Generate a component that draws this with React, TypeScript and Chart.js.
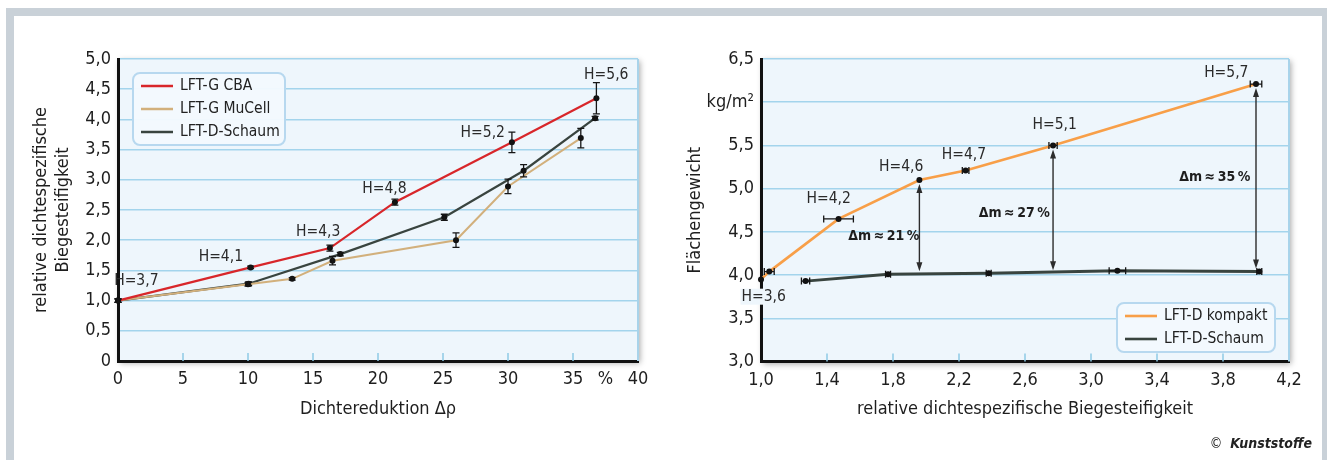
import React, { useEffect, useRef } from 'react';
import { Chart, registerables } from 'chart.js';

Chart.register(...registerables);

const FONT = "'DejaVu Sans Condensed', 'Liberation Sans Narrow', 'Roboto Condensed', 'Open Sans', sans-serif";

// ---------- Left chart data ----------
const cbaX = [0, 10.2, 16.3, 21.3, 30.3, 36.8];
const cbaY = [1.0, 1.55, 1.87, 2.63, 3.62, 4.35];
const cbaErr = [0.03, 0.02, 0.05, 0.05, 0.17, 0.26];

const mucellX = [0, 10.0, 13.4, 16.5, 26.0, 30.0, 35.6];
const mucellY = [1.0, 1.27, 1.36, 1.66, 2.0, 2.89, 3.69];
const mucellErr = [0.03, 0.03, 0.02, 0.07, 0.12, 0.12, 0.16];

const schaumGX = [0, 10.05, 17.1, 25.1, 31.2, 36.7];
const schaumGY = [1.0, 1.28, 1.77, 2.38, 3.15, 4.02];
const schaumGErr = [0.03, 0.03, 0.03, 0.05, 0.1, 0.03];

const leftHLabels = ['H=3,7', 'H=4,1', 'H=4,3', 'H=4,8', 'H=5,2', 'H=5,6'];
const leftHX = [1.41, 7.91, 15.4, 20.5, 28.06, 37.56];
const leftHY = [1.32, 1.73, 2.14, 2.85, 3.77, 4.74];

const leftSeriesNames = ['LFT-G CBA', 'LFT-G MuCell', 'LFT-D-Schaum'];

// ---------- Right chart data ----------
const kompaktX = [1.0, 1.05, 1.47, 1.96, 2.24, 2.77, 4.0];
const kompaktY = [3.95, 4.04, 4.65, 5.10, 5.21, 5.50, 6.21];
const kompaktXErr = [0, 0.03, 0.09, 0, 0.02, 0.025, 0.035];

const schaumDX = [1.27, 1.77, 2.38, 3.16, 4.02];
const schaumDY = [3.93, 4.01, 4.02, 4.05, 4.04];
const schaumDXErr = [0.025, 0.015, 0.015, 0.05, 0.015];

const rightHLabels = ['H=3,6', 'H=4,2', 'H=4,6', 'H=4,7', 'H=5,1', 'H=5,7'];
const rightHX = [1.016, 1.41, 1.85, 2.23, 2.78, 3.82];
const rightHY = [3.75, 4.88, 5.25, 5.39, 5.74, 6.34];

const arrowX = [1.96, 2.77, 4.0];
const arrowTop = [5.10, 5.50, 6.21];
const arrowBottom = [4.01, 4.02, 4.04];
const deltaLabels = ['Δm\u2009≈\u200921\u2009%', 'Δm\u2009≈\u200927\u2009%', 'Δm\u2009≈\u200935\u2009%'];
const deltaX = [1.745, 2.535, 3.75];
const deltaY = [4.45, 4.715, 5.13];

const rightSeriesNames = ['LFT-D kompakt', 'LFT-D-Schaum'];

// ---------- styling ----------
const C_RED = '#d8262a';
const C_TAN = '#d2b07c';
const C_DARK = '#39443f';
const C_ORANGE = '#f89f48';
const C_PLOT = '#eef6fc';
const C_GRID = '#a3d4ec';
const C_TEXT = '#1e1e1e';

const comma = (v: number) => v.toFixed(1).replace('.', ',');

const pts = (xs: number[], ys: number[]) => xs.map((x, i) => ({ x, y: ys[i] }));

type ErrSpec = { ds: number; xs: number[]; ys: number[]; err: number[]; dir: 'x' | 'y' };
type LegendSpec = { anchor: 'tl' | 'br'; dx: number; dy: number; w: number; h: number; rowH: number; items: { label: string; color: string; width: number }[] };

function makeDecor(cfg: {
  innerTick: (v: number, min: number, max: number) => boolean;
  errors: ErrSpec[];
  labels: { text: string[]; xs: number[]; ys: number[]; maskFirst?: boolean };
  arrows?: { xs: number[]; tops: number[]; bottoms: number[] };
  deltas?: { text: string[]; xs: number[]; ys: number[] };
  legend: LegendSpec;
}) {
  return {
    id: 'decor',
    beforeDraw(chart: any) {
      const { ctx, chartArea: ca } = chart;
      ctx.save();
      ctx.shadowColor = 'rgba(0,0,0,0.35)';
      ctx.shadowBlur = 6;
      ctx.shadowOffsetX = 2;
      ctx.shadowOffsetY = 2;
      ctx.fillStyle = C_PLOT;
      ctx.fillRect(ca.left, ca.top, ca.right - ca.left, ca.bottom - ca.top);
      ctx.restore();
    },
    beforeDatasetsDraw(chart: any) {
      const { ctx, chartArea: ca } = chart;
      const xs = chart.scales.x;
      ctx.save();
      ctx.strokeStyle = '#a8d3ea';
      ctx.lineWidth = 2;
      ctx.beginPath();
      ctx.moveTo(ca.right, ca.top);
      ctx.lineTo(ca.right, ca.bottom);
      ctx.stroke();
      ctx.strokeStyle = '#8ecae6';
      ctx.lineWidth = 1.5;
      for (const t of xs.ticks) {
        if (!cfg.innerTick(t.value, xs.min, xs.max)) continue;
        const px = xs.getPixelForValue(t.value);
        ctx.beginPath();
        ctx.moveTo(px, ca.bottom);
        ctx.lineTo(px, ca.bottom - 8);
        ctx.stroke();
      }
      ctx.restore();
    },
    afterDatasetsDraw(chart: any) {
      const { ctx } = chart;
      const xs = chart.scales.x;
      const ys = chart.scales.y;
      ctx.save();
      // error bars
      ctx.strokeStyle = '#151515';
      ctx.lineWidth = 1.3;
      for (const e of cfg.errors) {
        e.xs.forEach((xv, i) => {
          const err = e.err[i];
          if (!err) return;
          const yv = e.ys[i];
          ctx.beginPath();
          if (e.dir === 'y') {
            const px = xs.getPixelForValue(xv);
            const p1 = ys.getPixelForValue(yv + err);
            const p2 = ys.getPixelForValue(yv - err);
            ctx.moveTo(px, p1); ctx.lineTo(px, p2);
            ctx.moveTo(px - 3.5, p1); ctx.lineTo(px + 3.5, p1);
            ctx.moveTo(px - 3.5, p2); ctx.lineTo(px + 3.5, p2);
          } else {
            const py = ys.getPixelForValue(yv);
            const p1 = xs.getPixelForValue(xv - err);
            const p2 = xs.getPixelForValue(xv + err);
            ctx.moveTo(p1, py); ctx.lineTo(p2, py);
            ctx.moveTo(p1, py - 3.5); ctx.lineTo(p1, py + 3.5);
            ctx.moveTo(p2, py - 3.5); ctx.lineTo(p2, py + 3.5);
          }
          ctx.stroke();
        });
      }
      // arrows
      if (cfg.arrows) {
        const a = cfg.arrows;
        ctx.strokeStyle = '#2c2c2c';
        ctx.fillStyle = '#2c2c2c';
        ctx.lineWidth = 1.4;
        a.xs.forEach((xv, i) => {
          const px = xs.getPixelForValue(xv);
          const t = ys.getPixelForValue(a.tops[i]) + 4;
          const b = ys.getPixelForValue(a.bottoms[i]) - 3;
          ctx.beginPath();
          ctx.moveTo(px, t + 6); ctx.lineTo(px, b - 6);
          ctx.stroke();
          ctx.beginPath();
          ctx.moveTo(px, t); ctx.lineTo(px - 3, t + 9); ctx.lineTo(px + 3, t + 9); ctx.closePath();
          ctx.fill();
          ctx.beginPath();
          ctx.moveTo(px, b); ctx.lineTo(px - 3, b - 9); ctx.lineTo(px + 3, b - 9); ctx.closePath();
          ctx.fill();
        });
      }
      // H labels
      ctx.font = `15.5px ${FONT}`;
      ctx.textAlign = 'center';
      ctx.textBaseline = 'middle';
      const L = cfg.labels;
      L.text.forEach((t, i) => {
        const px = xs.getPixelForValue(L.xs[i]);
        const py = ys.getPixelForValue(L.ys[i]);
        if (L.maskFirst && i === 0) {
          const w = ctx.measureText(t).width;
          ctx.fillStyle = C_PLOT;
          ctx.fillRect(px - w / 2 - 1, py - 8, w + 2, 16);
        }
        ctx.fillStyle = '#2a2a2a';
        ctx.fillText(t, px, py);
      });
      if (cfg.deltas) {
        ctx.font = `bold 14px ${FONT}`;
        ctx.fillStyle = '#1e1e1e';
        cfg.deltas.text.forEach((t, i) => {
          ctx.fillText(t, xs.getPixelForValue(cfg.deltas!.xs[i]), ys.getPixelForValue(cfg.deltas!.ys[i]));
        });
      }
      ctx.restore();
    },
    afterDraw(chart: any) {
      const { ctx, chartArea: ca } = chart;
      const lg = cfg.legend;
      const x0 = lg.anchor === 'tl' ? ca.left + lg.dx : ca.right - lg.dx - lg.w;
      const y0 = lg.anchor === 'tl' ? ca.top + lg.dy : ca.bottom - lg.dy - lg.h;
      ctx.save();
      ctx.fillStyle = 'rgba(243,249,254,0.97)';
      ctx.strokeStyle = '#b7d8ef';
      ctx.lineWidth = 2;
      ctx.beginPath();
      (ctx as any).roundRect(x0, y0, lg.w, lg.h, 7);
      ctx.fill();
      ctx.stroke();
      ctx.font = `15.5px ${FONT}`;
      ctx.textAlign = 'left';
      ctx.textBaseline = 'middle';
      lg.items.forEach((it, i) => {
        const cy = y0 + 13 + i * lg.rowH;
        ctx.strokeStyle = it.color;
        ctx.lineWidth = it.width;
        ctx.beginPath();
        ctx.moveTo(x0 + 8, cy);
        ctx.lineTo(x0 + 40, cy);
        ctx.stroke();
        ctx.fillStyle = '#222';
        ctx.fillText(it.label, x0 + 47, cy);
      });
      ctx.restore();
    },
  };
}

const tickFont = { family: FONT, size: 18 };
const titleFont = { family: FONT, size: 18, lineHeight: 1.2 };

function leftConfig(): any {
  const dsBase = { pointRadius: 3, pointHoverRadius: 3, pointBackgroundColor: '#111', pointBorderWidth: 0, clip: false as any, tension: 0, fill: false };
  return {
    type: 'line',
    data: {
      datasets: [
        { ...dsBase, label: leftSeriesNames[0], data: pts(cbaX, cbaY), borderColor: C_RED, borderWidth: 2.2 },
        { ...dsBase, label: leftSeriesNames[1], data: pts(mucellX, mucellY), borderColor: C_TAN, borderWidth: 2 },
        { ...dsBase, label: leftSeriesNames[2], data: pts(schaumGX, schaumGY), borderColor: C_DARK, borderWidth: 2.2 },
      ],
    },
    options: {
      animation: false,
      responsive: true,
      maintainAspectRatio: false,
      layout: { padding: { left: 0, top: 59, right: 22, bottom: 0 } },
      plugins: { legend: { display: false }, tooltip: { enabled: false } },
      events: [],
      scales: {
        x: {
          type: 'linear', min: 0, max: 40,
          ticks: {
            stepSize: 2.5, autoSkip: false, maxRotation: 0, padding: 8, color: C_TEXT, font: tickFont,
            callback: (v: number) => (v % 5 === 0 ? String(v) : v === 37.5 ? '%' : ''),
          },
          grid: { display: false, drawTicks: false },
          border: { display: true, color: '#111', width: 3 },
          title: { display: true, text: 'Dichtereduktion Δρ', color: C_TEXT, font: titleFont, padding: { top: 0, bottom: 40 } },
          afterFit: (s: any) => { s.height = 99; },
        },
        y: {
          type: 'linear', min: 0, max: 5,
          ticks: { stepSize: 0.5, padding: 7, color: C_TEXT, font: tickFont, callback: (v: number) => (v === 0 ? '0' : comma(v)) },
          grid: { drawTicks: false, lineWidth: 1.5, color: (c: any) => (c.tick && c.tick.value === 0 ? 'rgba(0,0,0,0)' : C_GRID) },
          border: { display: true, color: '#111', width: 3 },
          title: {
            display: true, text: ['relative dichtespezifische', 'Biegesteifigkeit'], color: C_TEXT,
            font: { family: FONT, size: 18, lineHeight: 22 / 18 }, padding: { top: 30, bottom: 0 },
          },
          afterFit: (s: any) => { s.width = 118; },
        },
      },
    },
    plugins: [
      makeDecor({
        innerTick: (v, min, max) => v % 5 === 0 && v > min && v < max,
        errors: [
          { ds: 0, xs: cbaX, ys: cbaY, err: cbaErr, dir: 'y' },
          { ds: 1, xs: mucellX, ys: mucellY, err: mucellErr, dir: 'y' },
          { ds: 2, xs: schaumGX, ys: schaumGY, err: schaumGErr, dir: 'y' },
        ],
        labels: { text: leftHLabels, xs: leftHX, ys: leftHY },
        legend: {
          anchor: 'tl', dx: 15, dy: 14, w: 152, h: 72, rowH: 23,
          items: [
            { label: leftSeriesNames[0], color: C_RED, width: 2.5 },
            { label: leftSeriesNames[1], color: C_TAN, width: 2.5 },
            { label: leftSeriesNames[2], color: C_DARK, width: 2.5 },
          ],
        },
      }),
    ],
  };
}

function rightConfig(): any {
  const dsBase = { pointRadius: 3, pointHoverRadius: 3, pointBackgroundColor: '#111', pointBorderWidth: 0, clip: false as any, tension: 0, fill: false };
  return {
    type: 'line',
    data: {
      datasets: [
        { ...dsBase, label: rightSeriesNames[0], data: pts(kompaktX, kompaktY), borderColor: C_ORANGE, borderWidth: 2.6 },
        { ...dsBase, label: rightSeriesNames[1], data: pts(schaumDX, schaumDY), borderColor: C_DARK, borderWidth: 3 },
      ],
    },
    options: {
      animation: false,
      responsive: true,
      maintainAspectRatio: false,
      layout: { padding: { left: 0, top: 59, right: 38, bottom: 0 } },
      plugins: { legend: { display: false }, tooltip: { enabled: false } },
      events: [],
      scales: {
        x: {
          type: 'linear', min: 1, max: 4.2,
          ticks: { stepSize: 0.4, autoSkip: false, maxRotation: 0, padding: 8, color: C_TEXT, font: tickFont, callback: (v: number) => comma(v) },
          grid: { display: false, drawTicks: false },
          border: { display: true, color: '#111', width: 3 },
          title: { display: true, text: 'relative dichtespezifische Biegesteifigkeit', color: C_TEXT, font: titleFont, padding: { top: 0, bottom: 40 } },
          afterFit: (s: any) => { s.height = 98.5; },
        },
        y: {
          type: 'linear', min: 3, max: 6.5,
          ticks: { stepSize: 0.5, padding: 7, color: C_TEXT, font: tickFont, callback: (v: number) => (Math.abs(v - 6) < 1e-9 ? 'kg/m²' : comma(v)) },
          grid: { drawTicks: false, lineWidth: 1.5, color: (c: any) => (c.tick && Math.abs(c.tick.value - 3) < 1e-9 ? 'rgba(0,0,0,0)' : C_GRID) },
          border: { display: true, color: '#111', width: 3 },
          title: { display: true, text: 'Flächengewicht', color: C_TEXT, font: titleFont, padding: { top: 25, bottom: 0 } },
          afterFit: (s: any) => { s.width = 101; },
        },
      },
    },
    plugins: [
      makeDecor({
        innerTick: (v, min, max) => v > min + 1e-9 && v < max - 1e-9,
        errors: [
          { ds: 0, xs: kompaktX, ys: kompaktY, err: kompaktXErr, dir: 'x' },
          { ds: 1, xs: schaumDX, ys: schaumDY, err: schaumDXErr, dir: 'x' },
        ],
        labels: { text: rightHLabels, xs: rightHX, ys: rightHY, maskFirst: true },
        arrows: { xs: arrowX, tops: arrowTop, bottoms: arrowBottom },
        deltas: { text: deltaLabels, xs: deltaX, ys: deltaY },
        legend: {
          anchor: 'br', dx: 14, dy: 9.5, w: 158, h: 49, rowH: 23,
          items: [
            { label: rightSeriesNames[0], color: C_ORANGE, width: 2.6 },
            { label: rightSeriesNames[1], color: C_DARK, width: 2.6 },
          ],
        },
      }),
    ],
  };
}

export default function App() {
  const leftRef = useRef<HTMLCanvasElement>(null);
  const rightRef = useRef<HTMLCanvasElement>(null);
  useEffect(() => {
    const c1 = new Chart(leftRef.current as HTMLCanvasElement, leftConfig());
    const c2 = new Chart(rightRef.current as HTMLCanvasElement, rightConfig());
    return () => {
      c1.destroy();
      c2.destroy();
    };
  }, []);
  const frame = '#c9d1d8';
  return (
    <div style={{ position: 'absolute', left: 0, top: 0, width: 1327, height: 460, background: '#fff', overflow: 'hidden', fontFamily: FONT }}>
      <div style={{ position: 'absolute', left: 6, top: 8, width: 1321, height: 452, boxSizing: 'border-box', borderTop: `8px solid ${frame}`, borderLeft: `8px solid ${frame}`, borderRight: `5px solid ${frame}` }} />
      <div style={{ position: 'absolute', left: 0, top: 0, width: 660, height: 460 }}>
        <canvas ref={leftRef} style={{ display: 'block' }} />
      </div>
      <div style={{ position: 'absolute', left: 660, top: 0, width: 667, height: 460 }}>
        <canvas ref={rightRef} style={{ display: 'block' }} />
      </div>
      <div style={{ position: 'absolute', right: 15, top: 435, fontSize: 14, color: '#222', whiteSpace: 'nowrap' }}>
        ©&nbsp;&nbsp;<span style={{ fontWeight: 'bold', fontStyle: 'italic' }}>Kunststoffe</span>
      </div>
    </div>
  );
}
